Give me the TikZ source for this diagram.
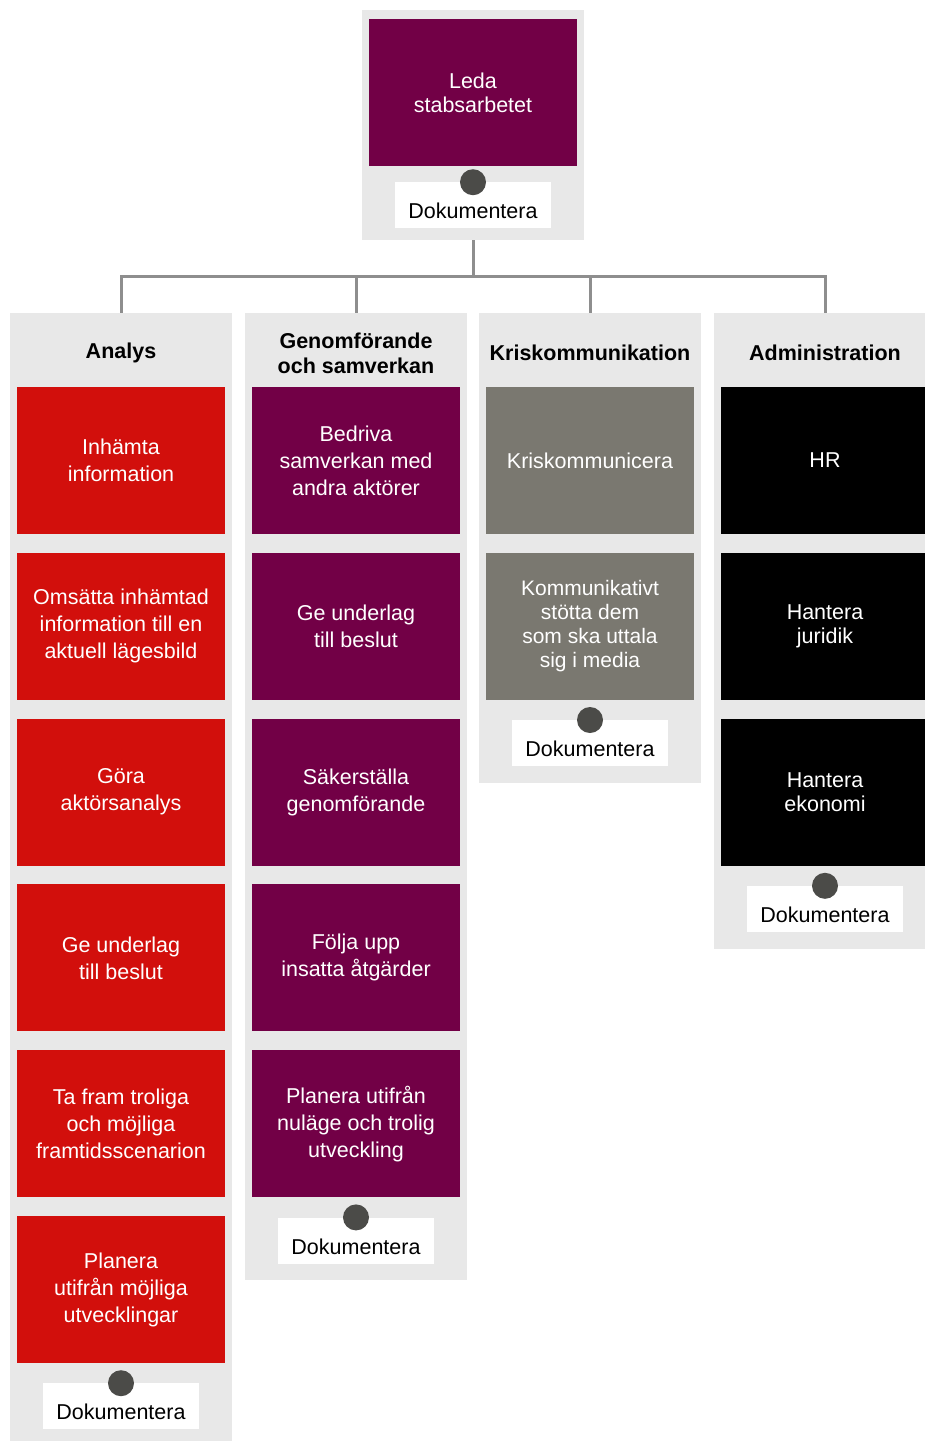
\documentclass[tikz,border=0pt]{standalone}
\usepackage{fontspec}
\setmainfont{Liberation Sans}
\definecolor{MSBred}{HTML}{D20F0C}
\definecolor{MSBpurple}{HTML}{720046}
\definecolor{MSBstone}{HTML}{7A7870}
\definecolor{panelgray}{HTML}{E8E8E8}
\definecolor{dotgray}{HTML}{4B4B48}
\definecolor{linegray}{HTML}{8E8E8E}
\usetikzlibrary{positioning}

\begin{document}
\begin{tikzpicture}[
  x=1pt, y=-1pt,
  node distance=18.4pt,
  panel/.style={fill=panelgray,minimum width=222pt,anchor=north,inner sep=0pt},
  box/.style={minimum width=208pt,minimum height=147pt,align=center,text=white,inner sep=0pt,font=\fontsize{21.5}{27}\selectfont},
  head/.style={align=center,font=\bfseries\fontsize{21.5}{25}\selectfont},
  doc/.style={fill=white,minimum width=156pt,minimum height=46pt,inner sep=0pt,text height=27pt,text depth=0pt,font=\fontsize{21.5}{26}\selectfont},
  dot/.style={circle,fill=dotgray,minimum size=26pt,inner sep=0pt},
  conn/.style={draw=linegray,line width=3pt}
]
\useasboundingbox (0,0) rectangle (925,1441);
\clip (0,0) rectangle (925,1441);

\node[panel,minimum height=230pt] (pTop) at (473,10) {};
\node[panel,minimum height=1128pt] (pAna) at (121,313) {};
\node[panel,minimum height=967pt] (pGen) at (356,313) {};
\node[panel,minimum height=470pt] (pKris) at (590,313) {};
\node[panel,minimum height=636pt] (pAdm) at (825,313) {};

\coordinate (bus) at (473,276);
\draw[conn] (pTop.south) -- (bus);
\draw[conn] (bus) -| (pAna.north);
\draw[conn] (bus) -| (pGen.north);
\draw[conn] (bus) -| (pKris.north);
\draw[conn] (bus) -| (pAdm.north);

\node[box,fill=MSBpurple,font=\fontsize{21.5}{24}\selectfont] (leda) at (473,92.5) {Leda\\stabsarbetet};
\node[doc,below=16pt of leda] (docTop) {Dokumentera};
\node[dot] (dotTop) at (docTop.north) {};

\node[head] (hAna) at (121,353) {Analys};
\node[head] (hGen) at (356,353) {Genomförande\\och samverkan};
\node[head] (hKris) at (590,353) {Kriskommunikation};
\node[head] (hAdm) at (825,353) {Administration};

\node[box,fill=MSBred] (ana1) at (121,460.5) {Inhämta\\information};
\node[box,fill=MSBred,below=of ana1] (ana2) {Omsätta inhämtad\\information till en\\aktuell lägesbild};
\node[box,fill=MSBred,below=of ana2] (ana3) {Göra\\aktörsanalys};
\node[box,fill=MSBred,below=of ana3] (ana4) {Ge underlag\\till beslut};
\node[box,fill=MSBred,below=of ana4] (ana5) {Ta fram troliga\\och möjliga\\framtidsscenarion};
\node[box,fill=MSBred,below=of ana5] (ana6) {Planera\\utifrån möjliga\\utvecklingar};
\node[doc,below=20pt of ana6] (docAna) {Dokumentera};
\node[dot] (dotAna) at (docAna.north) {};

\node[box,fill=MSBpurple] (gen1) at (356,460.5) {Bedriva\\samverkan med\\andra aktörer};
\node[box,fill=MSBpurple,below=of gen1] (gen2) {Ge underlag\\till beslut};
\node[box,fill=MSBpurple,below=of gen2] (gen3) {Säkerställa\\genomförande};
\node[box,fill=MSBpurple,below=of gen3] (gen4) {Följa upp\\insatta åtgärder};
\node[box,fill=MSBpurple,below=of gen4] (gen5) {Planera utifrån\\nuläge och trolig\\utveckling};
\node[doc,below=20pt of gen5] (docGen) {Dokumentera};
\node[dot] (dotGen) at (docGen.north) {};

\node[box,fill=MSBstone] (kris1) at (590,460.5) {Kriskommunicera};
\node[box,fill=MSBstone,below=of kris1,font=\fontsize{21}{24}\selectfont] (kris2) {Kommunikativt\\stötta dem\\som ska uttala\\sig i media};
\node[doc,below=20pt of kris2] (docKris) {Dokumentera};
\node[dot] (dotKris) at (docKris.north) {};

\node[box,fill=black] (adm1) at (825,460.5) {HR};
\node[box,fill=black,below=of adm1,font=\fontsize{21.5}{24}\selectfont] (adm2) {Hantera\\juridik};
\node[box,fill=black,below=of adm2,font=\fontsize{21.5}{24}\selectfont] (adm3) {Hantera\\ekonomi};
\node[doc,below=20pt of adm3] (docAdm) {Dokumentera};
\node[dot] (dotAdm) at (docAdm.north) {};
\end{tikzpicture}
\end{document}
